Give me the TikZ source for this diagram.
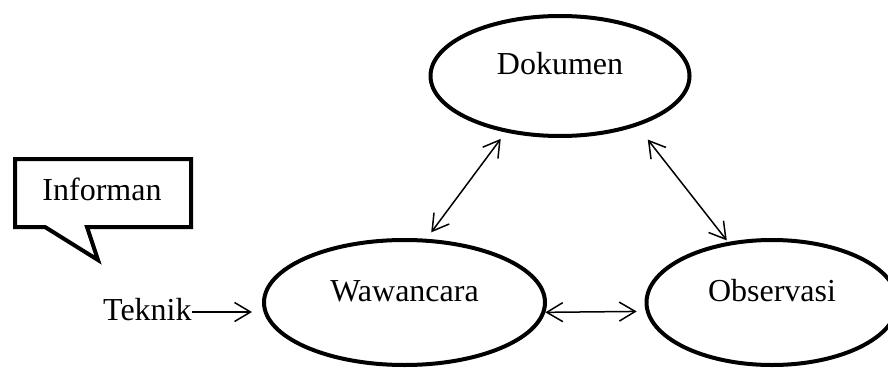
\documentclass[tikz,border=0pt]{standalone}
\usepackage{fontspec}
\setmainfont{Liberation Serif}
\usetikzlibrary{shapes.geometric,arrows.meta}
\begin{document}
\begin{tikzpicture}[x=0.5pt,y=-0.5pt,
  bubble/.style={ellipse,draw,line width=2pt,font=\fontsize{16}{19}\selectfont,
    text height=11pt,text depth=12pt,inner sep=0pt},
  lbl/.style={font=\fontsize{16}{19}\selectfont,inner sep=0pt},
  tip/.tip={Straight Barb[length=8pt,width=9.5pt]},
  link/.style={line width=0.75pt,tip-tip},
  feed/.style={line width=0.75pt,-tip},
  balloon/.style={draw,line width=2pt,line join=miter}]
\useasboundingbox (0,0) rectangle (888,369);

\node[bubble,minimum width=129.5pt,minimum height=60pt] (dok) at (560,76) {Dokumen};
\node[bubble,minimum width=140.5pt,minimum height=62.5pt] (waw) at (404.5,302.5) {Wawancara};
\node[bubble,minimum width=125.5pt,minimum height=62.5pt] (obs) at (772,302.5) {Observasi};

% callout
\draw[balloon] (15,159) -- (191,159) -- (191,227) -- (87,227) -- (98,260) -- (45,227) -- (15,227) -- cycle;
\node[lbl,anchor=base] (inf) at (102,200) {Informan};

\node[lbl,anchor=base east] (tek) at (192,320) {Teknik};

\draw[feed,shorten >=5pt] ([yshift=4pt]tek.base east) -- ([yshift=4pt]tek.base east -| waw.west);
\draw[link,shorten <=4pt,shorten >=4pt] (dok.-134) -- (waw.71);
\draw[link,shorten <=8.5pt,shorten >=1pt] (dok.-33) -- (obs.126);
\draw[link,shorten >=4.5pt] (waw.-4) -- (obs.184);
\end{tikzpicture}
\end{document}
